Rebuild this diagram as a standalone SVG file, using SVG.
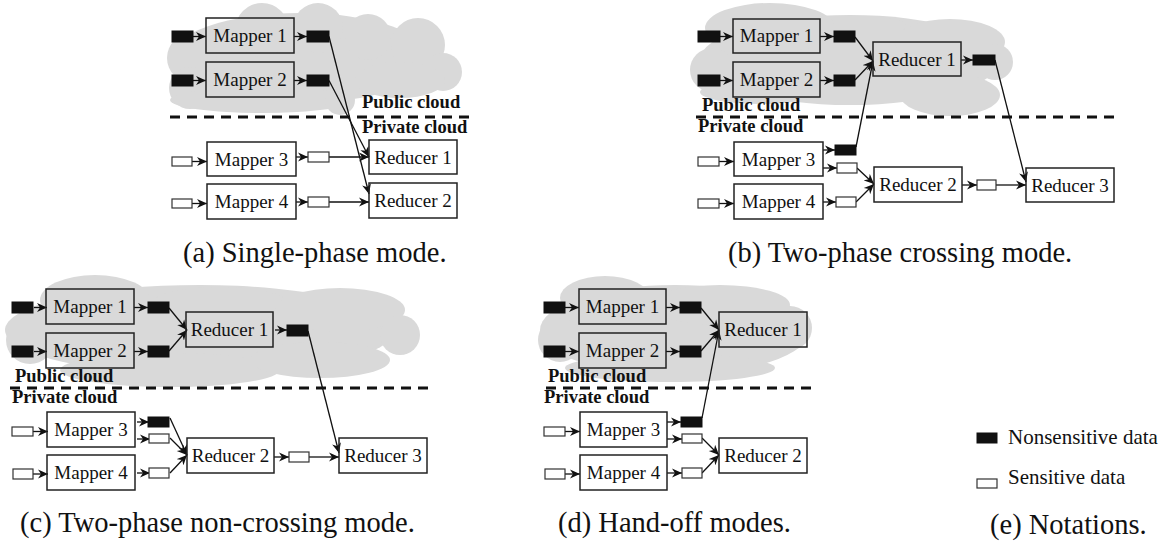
<svg xmlns="http://www.w3.org/2000/svg" width="1168" height="542" viewBox="0 0 1168 542">
<style>
.box{fill:none;stroke:#222;stroke-width:1.5}
.nd{fill:#111;stroke:#111;stroke-width:1}
.sd{fill:#fff;stroke:#333;stroke-width:1.2}
.lbl{font-family:"Liberation Serif","Times New Roman",serif;font-size:19px;text-anchor:middle;fill:#111}
.cl{font-family:"Liberation Serif","Times New Roman",serif;font-size:18.5px;font-weight:bold;fill:#111}
.cap{font-family:"Liberation Serif","Times New Roman",serif;font-size:28.5px;fill:#111}
.leg{font-family:"Liberation Serif","Times New Roman",serif;font-size:21px;fill:#111}
.conn{stroke:#111;stroke-width:1.3;fill:none;marker-end:url(#ah)}
.dash{stroke:#111;stroke-width:3;stroke-dasharray:10 7;fill:none}
.cloud{fill:#d9d9d9}
</style>
<defs>
<marker id="ah" markerUnits="userSpaceOnUse" markerWidth="11" markerHeight="10" refX="10" refY="4.5" orient="auto" viewBox="0 0 11 9">
<path d="M0,0 L10,4.5 L0,9 L3,4.5 z" fill="#111"/>
</marker>
</defs>
<rect width="1168" height="542" fill="#fff"/>

<!-- clouds -->
<g id="cloud-a" class="cloud">
<ellipse cx="300" cy="58" rx="130" ry="45"/>
<circle cx="262" cy="30" r="27"/>
<circle cx="318" cy="28" r="25"/>
<circle cx="368" cy="37" r="23"/>
<circle cx="418" cy="45" r="27"/>
<circle cx="443" cy="72" r="19"/>
<circle cx="192" cy="58" r="25"/>
<circle cx="190" cy="88" r="21"/>
<ellipse cx="262" cy="100" rx="92" ry="13"/>
<circle cx="340" cy="100" r="15"/>
<ellipse cx="400" cy="80" rx="45" ry="18"/>
</g>
<g id="cloud-b" class="cloud">
<ellipse cx="850" cy="60" rx="150" ry="45"/>
<ellipse cx="770" cy="28" rx="65" ry="25"/>
<circle cx="890" cy="40" r="22"/>
<ellipse cx="950" cy="42" rx="55" ry="23"/>
<circle cx="995" cy="62" r="18"/>
<circle cx="712" cy="70" r="22"/>
<ellipse cx="760" cy="92" rx="60" ry="12"/>
<ellipse cx="950" cy="95" rx="50" ry="21"/>
</g>
<g id="cloud-c" class="cloud">
<ellipse cx="200" cy="330" rx="195" ry="45"/>
<ellipse cx="95" cy="300" rx="55" ry="25"/>
<ellipse cx="220" cy="305" rx="70" ry="18"/>
<ellipse cx="340" cy="310" rx="65" ry="22"/>
<circle cx="400" cy="335" r="20"/>
<circle cx="30" cy="340" r="24"/>
<ellipse cx="170" cy="370" rx="110" ry="17"/>
<ellipse cx="320" cy="360" rx="70" ry="18"/>
</g>
<g id="cloud-d" class="cloud">
<ellipse cx="675" cy="330" rx="135" ry="45"/>
<ellipse cx="605" cy="298" rx="45" ry="22"/>
<ellipse cx="720" cy="305" rx="70" ry="20"/>
<circle cx="790" cy="328" r="22"/>
<circle cx="560" cy="340" r="22"/>
<ellipse cx="670" cy="368" rx="105" ry="14"/>
</g>

<!-- panel (a) -->
<g id="panel-a">
<line class="dash" x1="170" y1="117" x2="470" y2="117"/>
<text class="cl" x="362" y="108">Public cloud</text>
<text class="cl" x="362" y="133">Private cloud</text>
<g id="a-connectors">
<line class="conn" x1="193" y1="36.5" x2="206" y2="36.5"/>
<line class="conn" x1="193" y1="80.5" x2="206" y2="80.5"/>
<line class="conn" x1="294" y1="36.5" x2="307" y2="36.5"/>
<line class="conn" x1="294" y1="80.5" x2="307" y2="80.5"/>
<line class="conn" x1="329" y1="36.5" x2="369" y2="194"/>
<line class="conn" x1="329" y1="80.5" x2="369" y2="157"/>
<line class="conn" x1="192" y1="161.5" x2="207" y2="161.5"/>
<line class="conn" x1="192" y1="203.5" x2="207" y2="203.5"/>
<line class="conn" x1="296" y1="157" x2="308" y2="157"/>
<line class="conn" x1="296" y1="202" x2="308" y2="202"/>
<line class="conn" x1="329" y1="157" x2="369" y2="157"/>
<line class="conn" x1="329" y1="202" x2="369" y2="202"/>
</g>
<g id="a-data">
<rect class="nd" x="172" y="31" width="21" height="11"/>
<rect class="nd" x="172" y="75" width="21" height="11"/>
<rect class="nd" x="307" y="31" width="22" height="11"/>
<rect class="nd" x="307" y="75" width="22" height="11"/>
<rect class="sd" x="172" y="157" width="20" height="9"/>
<rect class="sd" x="172" y="199" width="20" height="9"/>
<rect class="sd" x="308" y="152" width="21" height="10"/>
<rect class="sd" x="308" y="197" width="21" height="10"/>
</g>
<g id="a-mapper1"><rect class="box" x="206" y="18" width="88" height="35"/><text class="lbl" x="250" y="42">Mapper 1</text></g>
<g id="a-mapper2"><rect class="box" x="206" y="62" width="88" height="35"/><text class="lbl" x="250" y="86">Mapper 2</text></g>
<g id="a-mapper3"><rect class="box" x="207" y="142" width="89" height="34"/><text class="lbl" x="251.5" y="166">Mapper 3</text></g>
<g id="a-mapper4"><rect class="box" x="207" y="184" width="89" height="35"/><text class="lbl" x="251.5" y="208">Mapper 4</text></g>
<g id="a-reducer1"><rect class="box" x="369" y="140" width="88" height="34"/><text class="lbl" x="413" y="164">Reducer 1</text></g>
<g id="a-reducer2"><rect class="box" x="369" y="183" width="88" height="35"/><text class="lbl" x="413" y="207">Reducer 2</text></g>
</g>

<!-- panel (b) -->
<g id="panel-b">
<line class="dash" x1="696" y1="117" x2="1117" y2="117"/>
<text class="cl" x="702" y="111">Public cloud</text>
<text class="cl" x="698" y="132">Private cloud</text>
<g id="b-connectors">
<line class="conn" x1="720" y1="36.5" x2="733" y2="36.5"/>
<line class="conn" x1="720" y1="80.5" x2="733" y2="80.5"/>
<line class="conn" x1="820" y1="36.5" x2="834" y2="36.5"/>
<line class="conn" x1="820" y1="80.5" x2="834" y2="80.5"/>
<line class="conn" x1="855" y1="37" x2="873" y2="61"/>
<line class="conn" x1="855" y1="80" x2="873" y2="61"/>
<line class="conn" x1="856" y1="147" x2="873" y2="61"/>
<line class="conn" x1="961" y1="60" x2="973" y2="60"/>
<line class="conn" x1="995" y1="60" x2="1026" y2="182"/>
<line class="conn" x1="719" y1="161.5" x2="734" y2="161.5"/>
<line class="conn" x1="719" y1="203.5" x2="734" y2="203.5"/>
<line class="conn" x1="823" y1="150" x2="835" y2="150"/>
<line class="conn" x1="823" y1="168" x2="837" y2="168"/>
<line class="conn" x1="823" y1="202" x2="836" y2="202"/>
<line class="conn" x1="857" y1="168" x2="874" y2="184"/>
<line class="conn" x1="856" y1="202" x2="874" y2="184"/>
<line class="conn" x1="962" y1="185" x2="977" y2="185"/>
<line class="conn" x1="996" y1="185" x2="1026" y2="185"/>
</g>
<g id="b-data">
<rect class="nd" x="698" y="31" width="22" height="11"/>
<rect class="nd" x="698" y="75" width="22" height="11"/>
<rect class="nd" x="834" y="31" width="21" height="11"/>
<rect class="nd" x="834" y="75" width="21" height="11"/>
<rect class="nd" x="973" y="55" width="22" height="10"/>
<rect class="sd" x="698" y="157" width="21" height="9"/>
<rect class="sd" x="698" y="199" width="21" height="9"/>
<rect class="nd" x="835" y="145" width="21" height="10"/>
<rect class="sd" x="837" y="163" width="20" height="10"/>
<rect class="sd" x="836" y="197" width="20" height="10"/>
<rect class="sd" x="977" y="180" width="19" height="10"/>
</g>
<g id="b-mapper1"><rect class="box" x="733" y="19" width="87" height="34"/><text class="lbl" x="776.5" y="42">Mapper 1</text></g>
<g id="b-mapper2"><rect class="box" x="733" y="62" width="87" height="35"/><text class="lbl" x="776.5" y="86">Mapper 2</text></g>
<g id="b-reducer1"><rect class="box" x="873" y="42" width="88" height="34"/><text class="lbl" x="917" y="66">Reducer 1</text></g>
<g id="b-mapper3"><rect class="box" x="734" y="142" width="89" height="34"/><text class="lbl" x="778.5" y="166">Mapper 3</text></g>
<g id="b-mapper4"><rect class="box" x="734" y="184" width="89" height="35"/><text class="lbl" x="778.5" y="208">Mapper 4</text></g>
<g id="b-reducer2"><rect class="box" x="874" y="167" width="88" height="35"/><text class="lbl" x="918" y="191">Reducer 2</text></g>
<g id="b-reducer3"><rect class="box" x="1026" y="168" width="88" height="34"/><text class="lbl" x="1070" y="192">Reducer 3</text></g>
</g>

<!-- panel (c) -->
<g id="panel-c" transform="translate(-686,270)">
<line class="dash" x1="696" y1="118" x2="1119" y2="118"/>
<text class="cl" x="701" y="112">Public cloud</text>
<text class="cl" x="698" y="133">Private cloud</text>
<g id="c-connectors">
<line class="conn" x1="720" y1="37.5" x2="733" y2="37.5"/>
<line class="conn" x1="720" y1="81.5" x2="733" y2="81.5"/>
<line class="conn" x1="820" y1="37.5" x2="834" y2="37.5"/>
<line class="conn" x1="820" y1="81.5" x2="834" y2="81.5"/>
<line class="conn" x1="855" y1="38" x2="873" y2="60"/>
<line class="conn" x1="855" y1="81" x2="873" y2="60"/>
<line class="conn" x1="961" y1="60" x2="973" y2="60"/>
<line class="conn" x1="994" y1="61" x2="1025" y2="183"/>
<line class="conn" x1="719" y1="161.5" x2="734" y2="161.5"/>
<line class="conn" x1="719" y1="204" x2="734" y2="204"/>
<line class="conn" x1="823" y1="152" x2="835" y2="152"/>
<line class="conn" x1="823" y1="169" x2="836" y2="169"/>
<line class="conn" x1="823" y1="203" x2="836" y2="203"/>
<line class="conn" x1="856" y1="148" x2="873" y2="185"/>
<line class="conn" x1="856" y1="168" x2="873" y2="185"/>
<line class="conn" x1="856" y1="203" x2="873" y2="185"/>
<line class="conn" x1="960" y1="187" x2="975" y2="187"/>
<line class="conn" x1="995" y1="187" x2="1025" y2="187"/>
</g>
<g id="c-data">
<rect class="nd" x="698" y="32" width="21" height="11"/>
<rect class="nd" x="698" y="76" width="21" height="11"/>
<rect class="nd" x="834" y="32" width="21" height="11"/>
<rect class="nd" x="834" y="76" width="21" height="11"/>
<rect class="nd" x="973" y="55" width="21" height="11"/>
<rect class="sd" x="698" y="157" width="21" height="9"/>
<rect class="sd" x="699" y="199" width="20" height="10"/>
<rect class="nd" x="834" y="147" width="21" height="10"/>
<rect class="sd" x="835" y="164" width="20" height="9"/>
<rect class="sd" x="835" y="198" width="20" height="10"/>
<rect class="sd" x="975" y="182" width="20" height="10"/>
</g>
<g id="c-mapper1"><rect class="box" x="732" y="19" width="88" height="35"/><text class="lbl" x="776" y="43">Mapper 1</text></g>
<g id="c-mapper2"><rect class="box" x="732" y="63" width="88" height="35"/><text class="lbl" x="776" y="87">Mapper 2</text></g>
<g id="c-reducer1"><rect class="box" x="872" y="42" width="87" height="35"/><text class="lbl" x="915.5" y="66">Reducer 1</text></g>
<g id="c-mapper3"><rect class="box" x="733" y="142" width="88" height="35"/><text class="lbl" x="777" y="166">Mapper 3</text></g>
<g id="c-mapper4"><rect class="box" x="733" y="185" width="88" height="35"/><text class="lbl" x="777" y="209">Mapper 4</text></g>
<g id="c-reducer2"><rect class="box" x="873" y="168" width="87" height="35"/><text class="lbl" x="916.5" y="192">Reducer 2</text></g>
<g id="c-reducer3"><rect class="box" x="1025" y="168" width="88" height="35"/><text class="lbl" x="1069" y="192">Reducer 3</text></g>
</g>

<!-- panel (d) -->
<g id="panel-d" transform="translate(-153,270)">
<line class="dash" x1="699" y1="118" x2="966" y2="118"/>
<text class="cl" x="701" y="112">Public cloud</text>
<text class="cl" x="697" y="133">Private cloud</text>
<g id="d-connectors">
<line class="conn" x1="718" y1="37.5" x2="732" y2="37.5"/>
<line class="conn" x1="718" y1="81.5" x2="732" y2="81.5"/>
<line class="conn" x1="819" y1="37.5" x2="833" y2="37.5"/>
<line class="conn" x1="819" y1="81.5" x2="833" y2="81.5"/>
<line class="conn" x1="854" y1="38" x2="872" y2="60"/>
<line class="conn" x1="854" y1="81" x2="872" y2="60"/>
<line class="conn" x1="855" y1="148" x2="872" y2="60"/>
<line class="conn" x1="718" y1="161.5" x2="733" y2="161.5"/>
<line class="conn" x1="718" y1="204" x2="733" y2="204"/>
<line class="conn" x1="820" y1="152" x2="834" y2="152"/>
<line class="conn" x1="820" y1="169" x2="835" y2="169"/>
<line class="conn" x1="820" y1="203" x2="835" y2="203"/>
<line class="conn" x1="855" y1="168" x2="872" y2="185"/>
<line class="conn" x1="855" y1="203" x2="872" y2="185"/>
</g>
<g id="d-data">
<rect class="nd" x="697" y="32" width="21" height="11"/>
<rect class="nd" x="697" y="76" width="21" height="11"/>
<rect class="nd" x="833" y="32" width="21" height="11"/>
<rect class="nd" x="833" y="76" width="21" height="11"/>
<rect class="sd" x="697" y="157" width="21" height="9"/>
<rect class="sd" x="698" y="199" width="20" height="10"/>
<rect class="nd" x="834" y="147" width="21" height="10"/>
<rect class="sd" x="835" y="164" width="20" height="9"/>
<rect class="sd" x="835" y="198" width="20" height="10"/>
</g>
<g id="d-mapper1"><rect class="box" x="732" y="19" width="87" height="35"/><text class="lbl" x="775.5" y="43">Mapper 1</text></g>
<g id="d-mapper2"><rect class="box" x="732" y="63" width="87" height="35"/><text class="lbl" x="775.5" y="87">Mapper 2</text></g>
<g id="d-reducer1"><rect class="box" x="872" y="42" width="88" height="35"/><text class="lbl" x="916" y="66">Reducer 1</text></g>
<g id="d-mapper3"><rect class="box" x="733" y="142" width="87" height="35"/><text class="lbl" x="776.5" y="166">Mapper 3</text></g>
<g id="d-mapper4"><rect class="box" x="733" y="185" width="87" height="35"/><text class="lbl" x="776.5" y="209">Mapper 4</text></g>
<g id="d-reducer2"><rect class="box" x="872" y="168" width="88" height="35"/><text class="lbl" x="916" y="192">Reducer 2</text></g>
</g>

<!-- legend (e) -->
<g id="legend">
<g id="legend-nonsensitive"><rect class="nd" x="977" y="433" width="20" height="10"/><text class="leg" x="1008" y="444">Nonsensitive data</text></g>
<g id="legend-sensitive"><rect class="sd" x="977" y="479" width="20" height="9"/><text class="leg" x="1008" y="484">Sensitive data</text></g>
</g>

<!-- captions -->
<text class="cap" x="183" y="262">(a) Single-phase mode.</text>
<text class="cap" x="728" y="262">(b) Two-phase crossing mode.</text>
<text class="cap" x="20" y="532">(c) Two-phase non-crossing mode.</text>
<text class="cap" x="558" y="532">(d) Hand-off modes.</text>
<text class="cap" x="990" y="534">(e) Notations.</text>
</svg>
